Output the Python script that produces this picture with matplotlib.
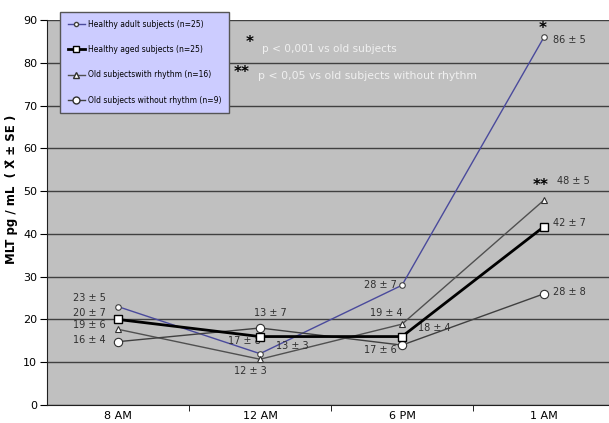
import matplotlib.pyplot as plt
import numpy as np
from matplotlib.lines import Line2D

times = ["8 AM", "12 AM", "6 PM", "1 AM"]
adult = [23, 12, 28, 86]
aged = [20, 16, 16, 41.7]
rhythm = [17.7, 10.7, 18.9, 47.9]
no_rhythm = [14.8, 18, 14, 26]

names = ["Healthy adult subjects (n=25)", "Healthy aged subjects (n=25)",
         "Old subjectswith rhythm (n=16)", "Old subjects without rhythm (n=9)"]

# value labels: (x, y, text, ha)
labels = [
    (-0.085, 25.1, "23 ± 5", "right"), (-0.085, 21.6, "20 ± 7", "right"),
    (-0.085, 18.6, "19 ± 6", "right"), (-0.085, 15.1, "16 ± 4", "right"),
    (1.07, 21.6, "13 ± 7", "center"), (0.89, 14.9, "17 ± 8", "center"),
    (0.93, 7.9, "12 ± 3", "center"), (1.23, 13.7, "13 ± 3", "center"),
    (1.85, 28.1, "28 ± 7", "center"), (1.89, 21.6, "19 ± 4", "center"),
    (2.23, 18.1, "18 ± 4", "center"), (1.85, 12.8, "17 ± 6", "center"),
    (3.06, 26.5, "28 ± 8", "left"), (3.06, 85.3, "86 ± 5", "left"),
    (3.09, 52.3, "48 ± 5", "left"), (3.06, 42.6, "42 ± 7", "left"),
]

x = np.arange(len(times))

fig = plt.figure(figsize=(6.09, 4.23), dpi=100)
ax = fig.add_axes([47 / 609, 18 / 423, 568 / 609, 385 / 423])
ax.set_facecolor("#c0c0c0")

ax.plot(x, adult, color="#4a4a9c", lw=1, marker="o", ms=4, mfc="white", mec="#404040", mew=0.8, zorder=3)
ax.plot(x, aged, color="black", lw=2, marker="s", ms=6, mfc="white", mec="black", mew=1, zorder=4)
ax.plot(x, rhythm, color="#505050", lw=1, marker="^", ms=5, mfc="white", mec="#303030", mew=0.8, zorder=3)
ax.plot(x, no_rhythm, color="#404040", lw=1, marker="o", ms=6, mfc="white", mec="#303030", mew=0.8, zorder=3)

for lx, ly, t, ha in labels:
    ax.text(lx, ly, t, fontsize=7, color="#303030", ha=ha, va="center")

ax.text(2.99, 88.0, "*", fontsize=11, fontweight="bold", ha="center", va="center")
ax.text(2.98, 51.3, "**", fontsize=11, fontweight="bold", ha="center", va="center")

ax.set_xlim(-0.5, 3.5)
ax.set_ylim(0, 90)
ax.set_yticks(np.arange(0, 91, 10))
ax.set_xticks(x)
ax.set_xticklabels(times)
ax.set_xticks(np.arange(0.5, 3.0, 1), minor=True)
ax.tick_params(axis="x", which="major", length=0, pad=4, labelsize=8)
ax.tick_params(axis="x", which="minor", length=4, direction="out")
ax.tick_params(axis="y", length=5, direction="out", labelsize=8, pad=2)
ax.grid(axis="y", color="#404040", lw=1)
ax.set_axisbelow(True)
for s in ["top", "right"]:
    ax.spines[s].set_visible(False)
ax.spines["left"].set_color("#202020")
ax.spines["bottom"].set_color("#202020")

ax.set_ylabel("MLT pg / mL  ( X\u0304 ± SE )", fontsize=8.5, fontweight="bold")
ax.yaxis.set_label_coords(-0.051, 0.56)

handles = [
    Line2D([], [], color="#4a4a9c", lw=1, marker="o", ms=3, mfc="white", mec="#404040"),
    Line2D([], [], color="black", lw=2, marker="s", ms=5, mfc="white", mec="black"),
    Line2D([], [], color="#505050", lw=1, marker="^", ms=4, mfc="white", mec="#303030"),
    Line2D([], [], color="#404040", lw=1, marker="o", ms=5, mfc="white", mec="#303030"),
]
leg = fig.legend(handles, names, loc="upper left", bbox_to_anchor=(60 / 609, 1 - 12 / 423),
                 fontsize=5.5, frameon=True, fancybox=False, handlelength=2.3, handletextpad=0.4,
                 labelspacing=2.15, borderpad=1.0, borderaxespad=0)
leg.get_frame().set_facecolor("#ccccff")
leg.get_frame().set_edgecolor("#555555")
leg.get_frame().set_alpha(1)

fig.text(250 / 609, 1 - 43 / 423, "*", fontsize=11, fontweight="bold", ha="center", va="center")
fig.text(262 / 609, 1 - 49 / 423, "p < 0,001 vs old subjects", fontsize=7.6, color="#f0f0f0", va="center")
fig.text(242 / 609, 1 - 72 / 423, "**", fontsize=11, fontweight="bold", ha="center", va="center")
fig.text(258 / 609, 1 - 76 / 423, "p < 0,05 vs old subjects without rhythm", fontsize=7.8, color="#f0f0f0", va="center")

fig.savefig("out.png", dpi=100)
